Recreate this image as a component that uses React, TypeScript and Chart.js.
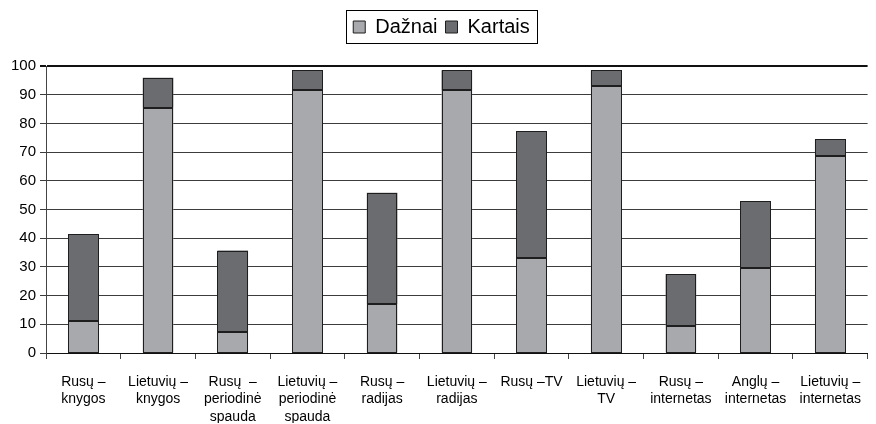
import React, { useEffect, useRef } from "react";
import { Chart, registerables } from "chart.js";

Chart.register(...registerables);

const categories: string[][] = [
  ["Rusų –", "knygos"],
  ["Lietuvių –", "knygos"],
  ["Rusų  –", "periodinė", "spauda"],
  ["Lietuvių –", "periodinė", "spauda"],
  ["Rusų –", "radijas"],
  ["Lietuvių –", "radijas"],
  ["Rusų –TV"],
  ["Lietuvių –", "TV"],
  ["Rusų –", "internetas"],
  ["Anglų –", "internetas"],
  ["Lietuvių –", "internetas"],
];

const daznai: number[] = [11, 85.5, 7.4, 91.5, 17, 91.5, 33, 93.2, 9.5, 29.5, 68.8];
const kartais: number[] = [30.4, 10.4, 28.3, 7.0, 38.8, 7.0, 44.2, 5.3, 18.0, 23.3, 5.8];

const yTicks: number[] = [0, 10, 20, 30, 40, 50, 60, 70, 80, 90, 100];

const FONT = "'Liberation Sans', Arial, sans-serif";
const OUTLINE = "#1e1e1e";

const legendMargin = {
  id: "legendMargin",
  beforeInit(chart: any) {
    const lg = chart.legend;
    if (!lg) return;
    const orig = lg.fit;
    lg.fit = function () {
      orig.bind(lg)();
      this.height += 19;
    };
  },
};

const legendBorder = {
  id: "legendBorder",
  afterDraw(chart: any) {
    const boxes = chart.legend?.legendHitBoxes;
    if (!boxes || !boxes.length) return;
    let minX = Infinity, maxX = -Infinity, minY = Infinity, maxY = -Infinity;
    for (const b of boxes) {
      minX = Math.min(minX, b.left);
      maxX = Math.max(maxX, b.left + b.width);
      minY = Math.min(minY, b.top);
      maxY = Math.max(maxY, b.top + b.height);
    }
    const ctx = chart.ctx;
    ctx.save();
    ctx.strokeStyle = "#000";
    ctx.lineWidth = 1;
    ctx.strokeRect(Math.round(minX - 7) + 0.5, Math.round(minY - 7) + 0.5, Math.round(maxX - minX + 14), Math.round(maxY - minY + 13));
    ctx.restore();
  },
};

const barOutline = {
  id: "barOutline",
  afterDatasetsDraw(chart: any) {
    const ctx = chart.ctx;
    ctx.save();
    ctx.strokeStyle = OUTLINE;
    ctx.lineWidth = 1;
    chart.data.datasets.forEach((_: any, di: number) => {
      const meta = chart.getDatasetMeta(di);
      meta.data.forEach((el: any) => {
        const { x, y, base, width } = el.getProps(["x", "y", "base", "width"], true);
        const l = Math.round(x - width / 2) + 0.5;
        const r = Math.round(x + width / 2) - 0.5;
        const t = Math.round(Math.min(y, base)) + 0.5;
        const b = Math.round(Math.max(y, base)) - 0.5;
        ctx.strokeRect(l, t, r - l, b - t);
      });
    });
    ctx.restore();
  },
};

export default function App() {
  const ref = useRef<HTMLCanvasElement | null>(null);
  useEffect(() => {
    if (!ref.current) return;
    const chart = new Chart(ref.current, {
      type: "bar",
      data: {
        labels: categories,
        datasets: [
          {
            label: "Dažnai",
            data: daznai,
            backgroundColor: "#a8a9ac",
            borderColor: OUTLINE,
            borderWidth: 0,
            categoryPercentage: 1,
            barPercentage: 0.41,
          },
          {
            label: "Kartais",
            data: kartais,
            backgroundColor: "#6b6c6f",
            borderColor: OUTLINE,
            borderWidth: 0,
            categoryPercentage: 1,
            barPercentage: 0.41,
          },
        ],
      },
      plugins: [legendMargin, legendBorder, barOutline],
      options: {
        animation: false,
        responsive: true,
        maintainAspectRatio: false,
        layout: { padding: { top: 9, right: 0, left: 7, bottom: 1 } },
        plugins: {
          legend: {
            position: "top",
            labels: {
              boxWidth: 12,
              boxHeight: 12,
              padding: 8,
              color: "#000",
              font: { family: FONT, size: 20 },
              generateLabels: (chart: any) =>
                chart.data.datasets.map((ds: any, i: number) => ({
                  text: ds.label,
                  fillStyle: ds.backgroundColor,
                  strokeStyle: OUTLINE,
                  lineWidth: 1,
                  hidden: false,
                  datasetIndex: i,
                  fontColor: "#000",
                })),
            },
          },
          tooltip: { enabled: false },
        },
        scales: {
          x: {
            stacked: true,
            offset: true,
            afterFit: (axis: any) => {
              axis.height = 70;
            },
            grid: {
              offset: true,
              drawOnChartArea: false,
              drawTicks: true,
              tickLength: 6,
              color: "#444",
            },
            border: { color: "#111", width: 1 },
            ticks: {
              color: "#000",
              maxRotation: 0,
              autoSkip: false,
              padding: 15,
              font: { family: FONT, size: 14, lineHeight: 1.22 },
            },
          },
          y: {
            stacked: true,
            min: 0,
            max: 100,
            afterBuildTicks: (axis: any) => {
              axis.ticks = yTicks.map((v) => ({ value: v }));
            },
            grid: {
              color: (c: any) => (c.tick && c.tick.value === 100 ? "#111" : "#3c3c3c"),
              lineWidth: (c: any) => (c.tick && c.tick.value === 100 ? 2 : 1),
              tickLength: 6,
            },
            border: { color: "#444", width: 1 },
            ticks: {
              color: "#000",
              padding: 4,
              font: { family: FONT, size: 15 },
            },
          },
        },
      },
    } as any);
    return () => chart.destroy();
  }, []);
  return (
    <div style={{ position: "fixed", left: 0, top: 0, width: 876, height: 424, background: "#fff" }}>
      <canvas ref={ref} />
    </div>
  );
}
